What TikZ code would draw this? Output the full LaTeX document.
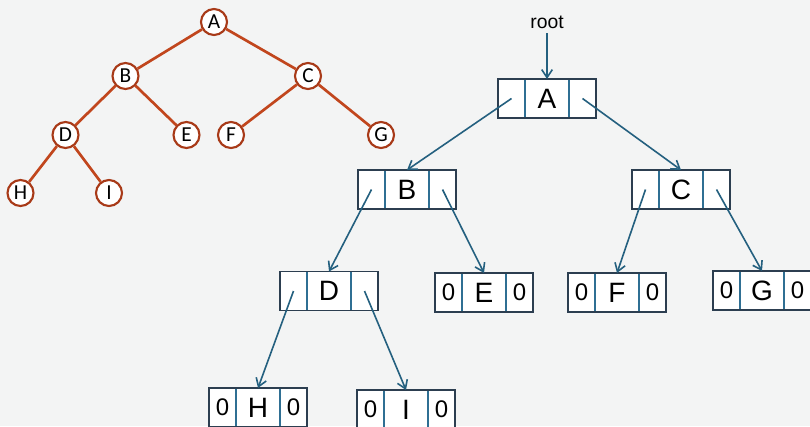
\documentclass[tikz,border=0pt]{standalone}
\usepackage{fontspec}
\setmainfont{Liberation Sans}
\newfontfamily\circfont{Carlito}
\usetikzlibrary{arrows.meta}

\definecolor{treeorange}{HTML}{C1461D}
\definecolor{ringred}{HTML}{A83A18}
\definecolor{linkblue}{HTML}{24607F}
\definecolor{frameblue}{HTML}{2C3E50}
\definecolor{cellblue}{HTML}{2F6F93}
\definecolor{paper}{HTML}{F3F4F4}

% one linked-list style node: left pointer cell, data cell, right pointer cell
\newcommand\treebox[6]{%
  \node[sidecell, anchor=north west] (#1l) at (#2,#3) {#4};
  \node[midcell, anchor=north west] (#1) at (#1l.north east) {#5};
  \node[sidecell, anchor=north west] (#1r) at (#1.north east) {#6};
  \draw[boxframe] (#1l.north west) rectangle (#1r.south east);
}

\tikzset{
  vertex/.style={circle, draw=ringred, line width=1.6pt, fill=white,
    minimum size=19.5pt, inner sep=0pt, font=\circfont\fontsize{16}{16}\selectfont},
  edge/.style={treeorange, line width=2pt},
  sidecell/.style={rectangle, draw=cellblue, line width=0.9pt, fill=white,
    minimum width=20.25pt, minimum height=29.25pt, inner sep=0pt, outer sep=0pt,
    font=\fontsize{18}{18}\selectfont},
  midcell/.style={rectangle, draw=cellblue, line width=0.9pt, fill=white,
    minimum width=33pt, minimum height=29.25pt, inner sep=0pt, outer sep=0pt,
    font=\fontsize{21}{21}\selectfont},
  boxframe/.style={frameblue, line width=1.1pt},
  link/.style={linkblue, line width=1.2pt, -{Straight Barb[length=6pt, width=8pt, line width=1.2pt]}},
}

\begin{document}
\begin{tikzpicture}[x=0.75pt, y=-0.75pt]
  \useasboundingbox (0,0) rectangle (810,426);
  \fill[paper] (0,0) rectangle (810,426);
  \begin{scope}
  \clip (0,0) rectangle (810,426);

  % binary tree drawn with circles
  \node[vertex] (tA) at (214,22) {A};
  \node[vertex] (tB) at (125.5,76) {B};
  \node[vertex] (tC) at (308,76) {C};
  \node[vertex] (tD) at (65.5,135) {D};
  \node[vertex] (tE) at (186.5,135) {E};
  \node[vertex] (tF) at (231,135) {F};
  \node[vertex] (tG) at (381,135) {G};
  \node[vertex] (tH) at (20.5,193) {H};
  \node[vertex] (tI) at (109,193) {I};
  \foreach \a/\b in {tA/tB, tA/tC, tB/tD, tB/tE, tC/tF, tC/tG, tD/tH, tD/tI}
    \draw[edge] (\a) -- (\b);

  % linked representation
  \node[font=\fontsize{14.5}{14.5}\selectfont] (root) at (547,22) {root};
  \treebox{nA}{498}{79}{}{A}{}
  \treebox{nB}{358}{170}{}{B}{}
  \treebox{nC}{632}{170}{}{C}{}
  \treebox{nD}{280}{271.5}{}{D}{}
  \treebox{nE}{435}{273}{0}{E}{0}
  \treebox{nF}{568}{273}{0}{F}{0}
  \treebox{nG}{713}{271}{0}{G}{0}
  \treebox{nH}{209}{388}{0}{H}{0}
  \treebox{nI}{357}{390}{0}{I}{0}

  \draw[link] (root) -- (nA.north);
  \draw[link] (nAl.center) -- (nB.north);
  \draw[link] (nAr.center) -- (nC.north);
  \draw[link] (nBl.center) -- (nD.north);
  \draw[link] (nBr.center) -- (nE.north);
  \draw[link] (nCl.center) -- (nF.north);
  \draw[link] (nCr.center) -- (nG.north);
  \draw[link] (nDl.center) -- (nH.north);
  \draw[link] (nDr.center) -- (nI.north);
  \end{scope}
\end{tikzpicture}
\end{document}
